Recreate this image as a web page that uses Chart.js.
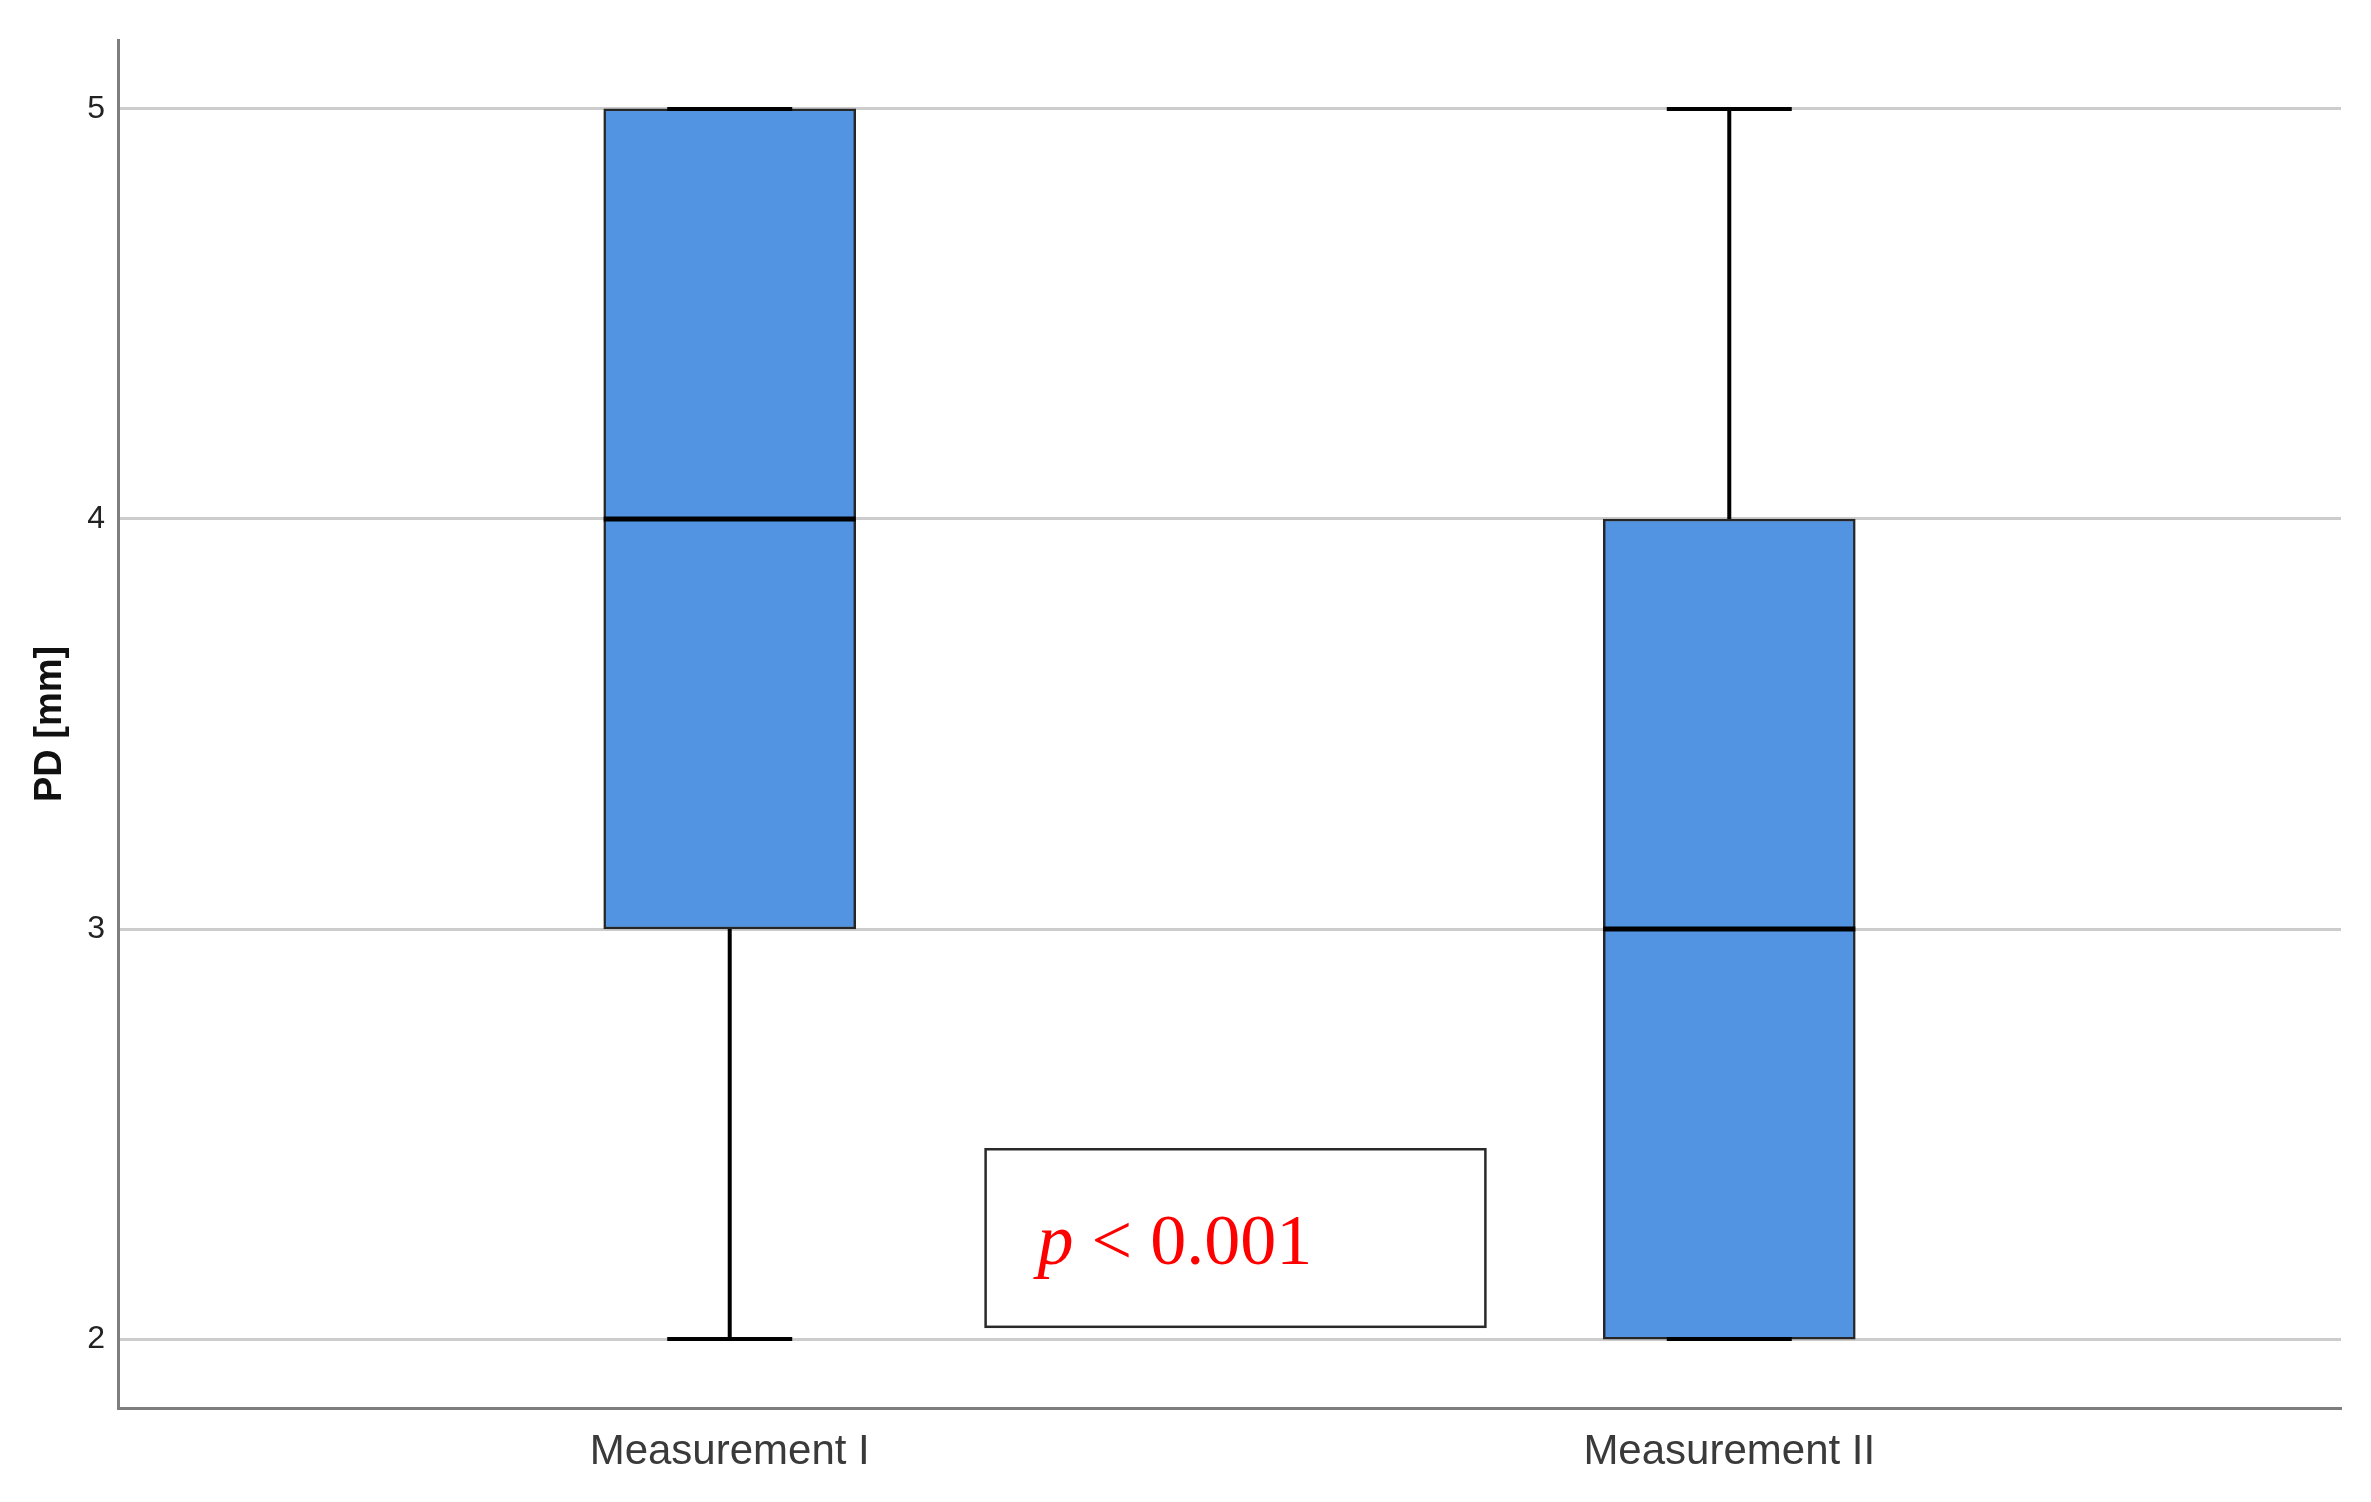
<!DOCTYPE html>
<html>
<head>
<meta charset="utf-8">
<script src="https://cdn.jsdelivr.net/npm/chart.js@4/dist/chart.umd.min.js"></script>
<style>
  html, body { margin: 0; padding: 0; background: #fff; }
</style>
</head>
<body>
<canvas id="chart" width="2371" height="1502"></canvas>
<script>
// box plot summary values, one entry per group
const categories = ['Measurement I', 'Measurement II'];
const minVals = [2, 2];
const q1Vals = [3, 2];
const medianVals = [4, 3];
const q3Vals = [5, 4];
const maxVals = [5, 5];
const yTicks = [2, 3, 4, 5];

const annotationText = { italic: 'p', rest: ' < 0.001' };
// annotation box in data units (x, y)
const annotationBox = { x0: 1.256, x1: 1.756, y0: 2.03, y1: 2.463 };

const boxWidth = 252;
const capWidth = 125;

const boxData = categories.map((c, i) => ({ x: i + 1, y: [q1Vals[i], q3Vals[i]] }));

const boxPlotExtras = {
    id: 'boxPlotExtras',
    afterDatasetsDraw(chart) {
        const ctx = chart.ctx;
        const xs = chart.scales.x, ys = chart.scales.y;
        ctx.save();
        ctx.strokeStyle = '#000';
        categories.forEach((c, i) => {
            const cx = xs.getPixelForValue(i + 1);
            // whiskers
            ctx.lineWidth = 4;
            ctx.beginPath();
            ctx.moveTo(cx, ys.getPixelForValue(q3Vals[i]));
            ctx.lineTo(cx, ys.getPixelForValue(maxVals[i]));
            ctx.moveTo(cx, ys.getPixelForValue(q1Vals[i]));
            ctx.lineTo(cx, ys.getPixelForValue(minVals[i]));
            ctx.stroke();
            // caps
            ctx.lineWidth = 4;
            ctx.beginPath();
            ctx.moveTo(cx - capWidth / 2, ys.getPixelForValue(maxVals[i]));
            ctx.lineTo(cx + capWidth / 2, ys.getPixelForValue(maxVals[i]));
            ctx.moveTo(cx - capWidth / 2, ys.getPixelForValue(minVals[i]));
            ctx.lineTo(cx + capWidth / 2, ys.getPixelForValue(minVals[i]));
            ctx.stroke();
            // median
            ctx.lineWidth = 5;
            ctx.beginPath();
            ctx.moveTo(cx - boxWidth / 2, ys.getPixelForValue(medianVals[i]));
            ctx.lineTo(cx + boxWidth / 2, ys.getPixelForValue(medianVals[i]));
            ctx.stroke();
        });

        // p-value box
        const left = xs.getPixelForValue(annotationBox.x0);
        const right = xs.getPixelForValue(annotationBox.x1);
        const top = ys.getPixelForValue(annotationBox.y1);
        const bottom = ys.getPixelForValue(annotationBox.y0);
        ctx.fillStyle = '#fff';
        ctx.fillRect(left, top, right - left, bottom - top);
        ctx.lineWidth = 2.5;
        ctx.strokeStyle = '#2a2a2a';
        ctx.strokeRect(left, top, right - left, bottom - top);

        ctx.fillStyle = '#ff0000';
        ctx.textBaseline = 'alphabetic';
        ctx.textAlign = 'left';
        const baseY = (top + bottom) / 2 + 26;
        let tx = left + 52;
        ctx.font = 'italic 72px "Liberation Serif", serif';
        ctx.fillText(annotationText.italic, tx, baseY);
        tx += ctx.measureText(annotationText.italic).width;
        ctx.font = '72px "Liberation Serif", serif';
        ctx.fillText(annotationText.rest, tx, baseY);
        ctx.restore();
    }
};

new Chart(document.getElementById('chart'), {
    type: 'bar',
    data: {
        datasets: [{
            data: boxData,
            backgroundColor: '#5294e2',
            borderColor: '#262626',
            borderWidth: 2.5,
            borderSkipped: false,
            barThickness: boxWidth
        }]
    },
    options: {
        responsive: false,
        animation: false,
        devicePixelRatio: 1,
        layout: { padding: { top: 40, right: 30, left: 0, bottom: 0 } },
        plugins: {
            legend: { display: false },
            tooltip: { enabled: false }
        },
        scales: {
            x: {
                type: 'linear',
                offset: false,
                min: 0.388,
                max: 2.612,
                afterBuildTicks: s => { s.ticks = categories.map((c, i) => ({ value: i + 1 })); },
                afterFit: s => { s.height = 94; },
                grid: { display: false, drawTicks: false },
                border: { color: '#7e7e7e', width: 3 },
                ticks: {
                    padding: 19,
                    color: '#3a3a3a',
                    font: { family: '"Liberation Sans", Arial, sans-serif', size: 42 },
                    callback: v => categories[v - 1]
                }
            },
            y: {
                min: 1.832,
                max: 5.168,
                afterBuildTicks: s => { s.ticks = yTicks.map(v => ({ value: v })); },
                afterFit: s => { s.width = 118; },
                grid: { color: '#cccccc', lineWidth: 3, drawTicks: false },
                border: { color: '#7e7e7e', width: 3 },
                ticks: {
                    padding: 13,
                    color: '#222',
                    font: { family: '"Liberation Sans", Arial, sans-serif', size: 32 }
                },
                title: {
                    display: true,
                    text: 'PD [mm]',
                    color: '#111',
                    padding: { top: 28, bottom: 0 },
                    font: { family: '"Liberation Sans", Arial, sans-serif', size: 38, weight: 'bold' }
                }
            }
        }
    },
    plugins: [boxPlotExtras]
});
</script>
</body>
</html>
